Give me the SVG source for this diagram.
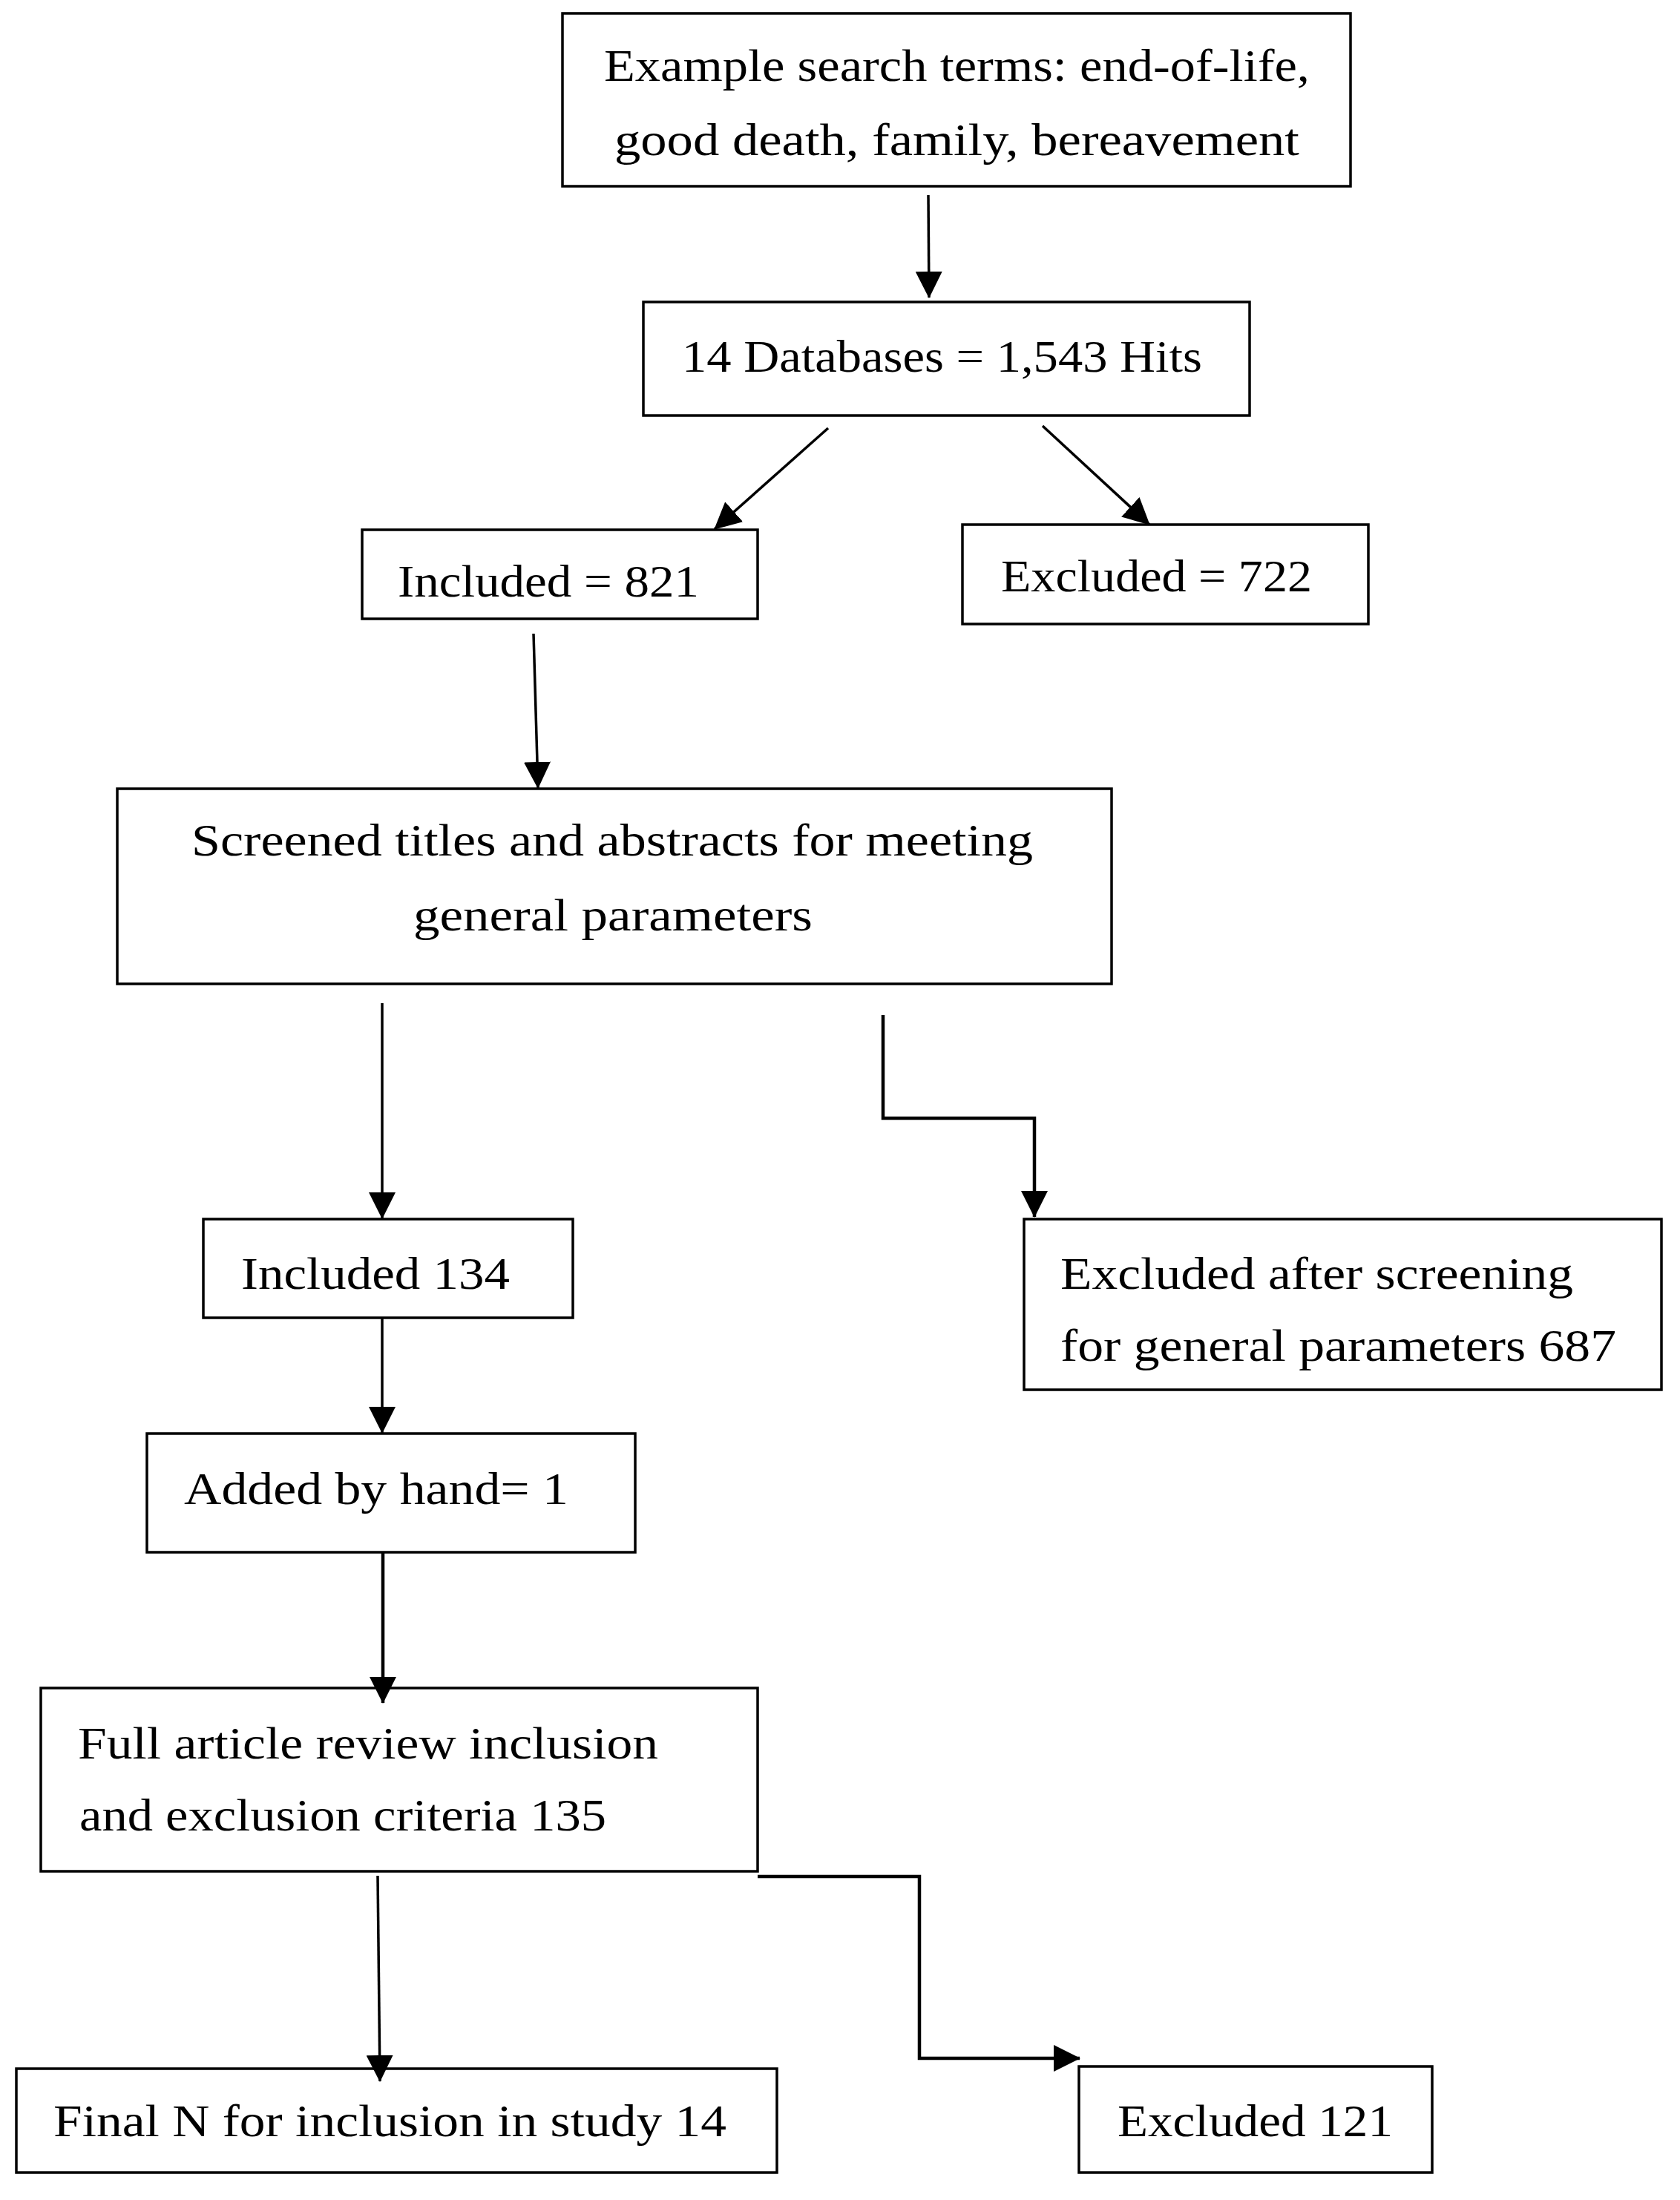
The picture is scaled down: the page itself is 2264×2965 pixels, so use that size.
<svg xmlns="http://www.w3.org/2000/svg" width="2264" height="2965" viewBox="0 0 2264 2965">
<style>
.box{fill:#fff;stroke:#000;stroke-width:3.5}
.t{font-family:"Liberation Serif","Times New Roman",serif;font-size:62px;fill:#000}
.c{fill:none;stroke:#000;stroke-width:3.5}
.ct{fill:none;stroke:#000;stroke-width:4.5}
</style>
<defs>
<marker id="ah" markerUnits="userSpaceOnUse" markerWidth="36" markerHeight="36" refX="35" refY="18" orient="auto">
<path d="M0,0 L36,18 L0,36 z" fill="#000"/>
</marker>
</defs>
<rect width="2264" height="2965" fill="#fff"/>
<g id="n1">
<rect class="box" x="758" y="18" width="1062" height="233"/>
<text class="t" x="814" y="109" textLength="951" lengthAdjust="spacingAndGlyphs">Example search terms: end-of-life,</text>
<text class="t" x="828" y="209" textLength="923" lengthAdjust="spacingAndGlyphs">good death, family, bereavement</text>
</g>
<g id="n2">
<rect class="box" x="867" y="407" width="817" height="153"/>
<text class="t" x="919" y="501" textLength="701" lengthAdjust="spacingAndGlyphs">14 Databases = 1,543 Hits</text>
</g>
<g id="n3">
<rect class="box" x="488" y="714" width="533" height="120"/>
<text class="t" x="536" y="804" textLength="406" lengthAdjust="spacingAndGlyphs">Included = 821</text>
</g>
<g id="n4">
<rect class="box" x="1297" y="707" width="547" height="134"/>
<text class="t" x="1349" y="797" textLength="419" lengthAdjust="spacingAndGlyphs">Excluded = 722</text>
</g>
<g id="n5">
<rect class="box" x="158" y="1063" width="1340" height="263"/>
<text class="t" x="258" y="1153" textLength="1134" lengthAdjust="spacingAndGlyphs">Screened titles and abstracts for meeting</text>
<text class="t" x="557" y="1254" textLength="538" lengthAdjust="spacingAndGlyphs">general parameters</text>
</g>
<g id="n6">
<rect class="box" x="274" y="1643" width="498" height="133"/>
<text class="t" x="325" y="1737" textLength="362" lengthAdjust="spacingAndGlyphs">Included 134</text>
</g>
<g id="n7">
<rect class="box" x="1380" y="1643" width="859" height="230"/>
<text class="t" x="1429" y="1737" textLength="691" lengthAdjust="spacingAndGlyphs">Excluded after screening</text>
<text class="t" x="1429" y="1834" textLength="749" lengthAdjust="spacingAndGlyphs">for general parameters 687</text>
</g>
<g id="n8">
<rect class="box" x="198" y="1932" width="658" height="160"/>
<text class="t" x="248" y="2027" textLength="518" lengthAdjust="spacingAndGlyphs">Added by hand= 1</text>
</g>
<g id="n9">
<rect class="box" x="55" y="2275" width="966" height="247"/>
<text class="t" x="105" y="2370" textLength="782" lengthAdjust="spacingAndGlyphs">Full article review inclusion</text>
<text class="t" x="107" y="2467" textLength="710" lengthAdjust="spacingAndGlyphs">and exclusion criteria 135</text>
</g>
<g id="n10">
<rect class="box" x="22" y="2788" width="1025" height="140"/>
<text class="t" x="72" y="2879" textLength="907" lengthAdjust="spacingAndGlyphs">Final N for inclusion in study 14</text>
</g>
<g id="n11">
<rect class="box" x="1454" y="2785" width="476" height="143"/>
<text class="t" x="1506" y="2879" textLength="371" lengthAdjust="spacingAndGlyphs">Excluded 121</text>
</g>
<g id="connectors">
<line class="c" x1="1251" y1="263" x2="1252" y2="401" marker-end="url(#ah)"/>
<line class="c" x1="1116" y1="577" x2="963" y2="713" marker-end="url(#ah)"/>
<line class="c" x1="1405" y1="574" x2="1549" y2="707" marker-end="url(#ah)"/>
<line class="c" x1="719" y1="854" x2="725" y2="1062" marker-end="url(#ah)"/>
<line class="c" x1="515" y1="1352" x2="515" y2="1642" marker-end="url(#ah)"/>
<polyline class="ct" points="1190,1368 1190,1507 1394,1507 1394,1640" marker-end="url(#ah)"/>
<line class="c" x1="515" y1="1776" x2="515" y2="1931" marker-end="url(#ah)"/>
<line class="ct" x1="516" y1="2092" x2="516" y2="2295" marker-end="url(#ah)"/>
<line class="c" x1="509" y1="2528" x2="512" y2="2805" marker-end="url(#ah)"/>
<polyline class="ct" points="1021,2529 1239,2529 1239,2774 1455,2774" marker-end="url(#ah)"/>
</g>
</svg>
